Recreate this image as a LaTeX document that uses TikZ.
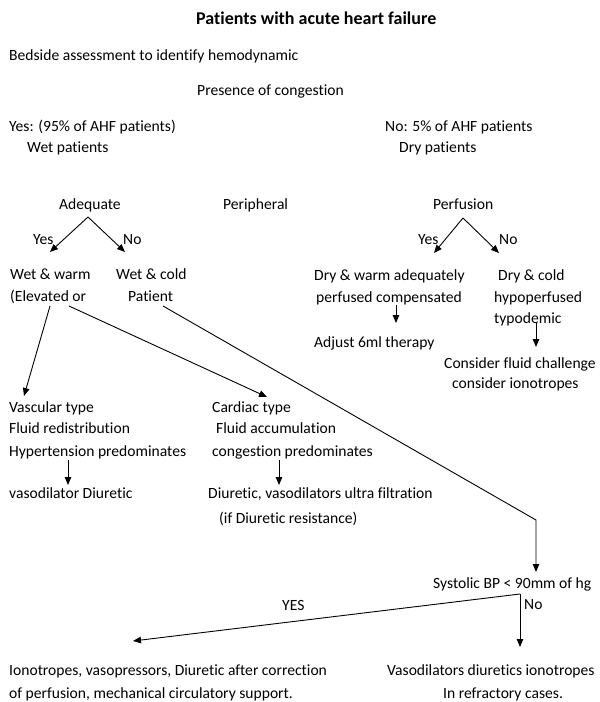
\documentclass[tikz,border=0pt]{standalone}
\usepackage{fontspec}
\setmainfont{Carlito}[Ligatures={NoCommon}]
\usetikzlibrary{arrows.meta}
\begin{document}
\begin{tikzpicture}[x=1pt,y=-1pt,
  txt/.style={anchor=base west, inner sep=0pt, font=\fontsize{15.6}{18}\selectfont},
  ttl/.style={anchor=base west, inner sep=0pt, font=\fontsize{18}{22}\selectfont\bfseries},
  arr/.style={draw, line width=0.9pt, -{Triangle[length=8pt,width=6.5pt]}},
  ln/.style={draw, line width=0.9pt}]
\useasboundingbox (0,0) rectangle (600,702);
% texts
\node[ttl] (title) at (196,24) {Patients with acute heart failure};
\node[txt] (bedside) at (9,60) {Bedside assessment to identify hemodynamic};
\node[txt] (presence) at (197,95) {Presence of congestion};
\node[txt] (yes95) at (9,131) {Yes: (95\% of AHF patients)};
\node[txt] (wetpat) at (27,152) {Wet patients};
\node[txt] (no5) at (385,131) {No: 5\% of AHF patients};
\node[txt] (drypat) at (399,152) {Dry patients};
\node[txt] (adequate) at (59,209) {Adequate};
\node[txt] (peripheral) at (223,209) {Peripheral};
\node[txt] (perfusion) at (433,209) {Perfusion};
\node[txt] (yesA) at (33,244) {Yes};
\node[txt] (noA) at (123,244) {No};
\node[txt] (yesP) at (418,244) {Yes};
\node[txt] (noP) at (499,244) {No};
\node[txt] (wetwarm) at (10,279) {Wet \& warm};
\node[txt] (elevated) at (10,301) {(Elevated or};
\node[txt] (wetcold) at (116,279) {Wet \& cold};
\node[txt] (patient) at (128,301) {Patient};
\node[txt] (drywarm) at (314,280) {Dry \& warm adequately};
\node[txt] (perfused) at (316,302) {perfused compensated};
\node[txt] (adjust) at (314,347) {Adjust 6ml therapy};
\node[txt] (drycold) at (498,280) {Dry \& cold};
\node[txt] (hypo) at (494,302) {hypoperfused};
\node[txt] (typo) at (494,323) {typodemic};
\node[txt] (consider1) at (444,368) {Consider fluid challenge};
\node[txt] (consider2) at (452,388) {consider ionotropes};
\node[txt] (vascular) at (9,412) {Vascular type};
\node[txt] (fluidred) at (9,433) {Fluid redistribution};
\node[txt] (hyper) at (9,456) {Hypertension predominates};
\node[txt] (vasodil) at (9,498) {vasodilator Diuretic};
\node[txt] (cardiac) at (212,412) {Cardiac type};
\node[txt] (fluidacc) at (216,433) {Fluid accumulation};
\node[txt] (congpred) at (212,456) {congestion predominates};
\node[txt] (diuretic) at (208,498) {Diuretic, vasodilators ultra filtration};
\node[txt] (ifdiur) at (219,523) {(if Diuretic resistance)};
\node[txt] (systolic) at (433,588) {Systolic BP < 90mm of hg};
\node[txt] (YES) at (282,610) {YES};
\node[txt] (noS) at (524,609) {No};
\node[txt] (iono1) at (9,675) {Ionotropes, vasopressors, Diuretic after correction};
\node[txt] (iono2) at (9,698) {of perfusion, mechanical circulatory support.};
\node[txt] (vaso1) at (387,675) {Vasodilators diuretics ionotropes};
\node[txt] (vaso2) at (443,698) {In refractory cases.};
% connector ends
\coordinate (aA) at (88,217);
\coordinate (aY) at (50,252);
\coordinate (aN) at (125,252);
\coordinate (pA) at (463,218);
\coordinate (pY) at (434,253);
\coordinate (pN) at (499,253);
\coordinate (dw1) at (396,305);
\coordinate (dw2) at (396,323);
\coordinate (dc1) at (536,323);
\coordinate (dc2) at (536,347);
\coordinate (ww1) at (50,306);
\coordinate (ww2) at (24,396);
\coordinate (ww3) at (69,306);
\coordinate (ww4) at (267,397);
\coordinate (wc1) at (163,306);
\coordinate (wc2) at (536,520);
\coordinate (wc3) at (536,572);
\coordinate (vt1) at (68,460);
\coordinate (vt2) at (68,485);
\coordinate (ct1) at (279,460);
\coordinate (ct2) at (279,485);
\coordinate (sb) at (520,594);
\coordinate (sbY) at (133,641);
\coordinate (sbN) at (520,647);
% connectors
\draw[arr] (aA) -- (aY);
\draw[arr] (aA) -- (aN);
\draw[arr] (pA) -- (pY);
\draw[arr] (pA) -- (pN);
\draw[arr] (dw1) -- (dw2);
\draw[arr] (dc1) -- (dc2);
\draw[arr] (ww1) -- (ww2);
\draw[arr] (ww3) -- (ww4);
\draw[arr] (wc1) -- (wc2) -- (wc3);
\draw[arr] (vt1) -- (vt2);
\draw[arr] (ct1) -- (ct2);
\draw[arr] (sb) -- (sbY);
\draw[arr] (sb) -- (sbN);
\end{tikzpicture}
\end{document}
